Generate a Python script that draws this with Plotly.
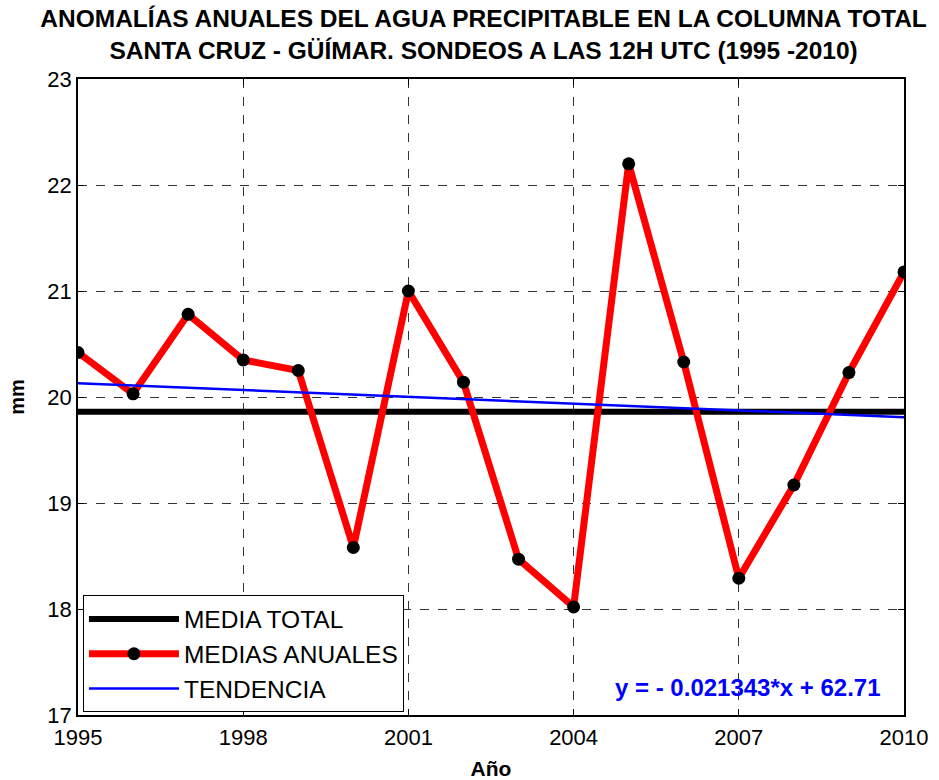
import plotly.graph_objects as go

years = [1995, 1996, 1997, 1998, 1999, 2000, 2001, 2002, 2003, 2004, 2005, 2006, 2007, 2008, 2009, 2010]
annual_means = [20.42, 20.03, 20.78, 20.35, 20.25, 18.58, 21.00, 20.14, 18.47, 18.02, 22.20, 20.33, 18.29, 19.17, 20.23, 21.18]
total_mean_years = [1995, 2010]
total_mean_values = [19.86, 19.86]
trend_years = [1995, 2010]
trend_values = [20.13, 19.81]
x_ticks = [1995, 1998, 2001, 2004, 2007, 2010]
y_ticks = [17, 18, 19, 20, 21, 22, 23]

FONT = "Liberation Sans, Arial, sans-serif"

fig = go.Figure()
fig.add_trace(go.Scatter(x=total_mean_years, y=total_mean_values, mode="lines",
                         line=dict(color="black", width=6), name="MEDIA TOTAL"))
fig.add_trace(go.Scatter(x=years, y=annual_means, mode="lines+markers",
                         line=dict(color="#ff0000", width=7),
                         marker=dict(color="black", size=13),
                         name="MEDIAS ANUALES"))
fig.add_trace(go.Scatter(x=trend_years, y=trend_values, mode="lines",
                         line=dict(color="#0000ff", width=2.5), name="TENDENCIA"))

axis_common = dict(showline=True, linecolor="black", linewidth=1.5, mirror="ticks",
                   ticks="inside", ticklen=6, tickcolor="black", automargin=False,
                   showgrid=True, gridcolor="#333333", gridwidth=1, griddash="dash",
                   zeroline=False, tickfont=dict(family=FONT, size=22, color="black"))

fig.update_xaxes(range=[1995, 2010], tickvals=x_ticks, ticklabelstandoff=2,
                 title=dict(text="<b>Año</b>", font=dict(family=FONT, size=21, color="black"), standoff=13),
                 **axis_common)
fig.update_yaxes(range=[17, 23], tickvals=y_ticks,
                 title=dict(text="<b>mm</b>", font=dict(family=FONT, size=20, color="black"), standoff=17),
                 **axis_common)

fig.add_annotation(x=0.974, y=0.0, xref="paper", yref="paper", xanchor="right", yanchor="bottom",
                   yshift=12,
                   text="<b>y = - 0.021343*x + 62.71</b>", showarrow=False,
                   font=dict(family=FONT, size=24, color="#0000ff"))

fig.update_layout(
    width=939, height=780,
    margin=dict(l=78, r=35, t=79, b=65),
    paper_bgcolor="white", plot_bgcolor="white",
    title=dict(text="<b>ANOMALÍAS ANUALES DEL AGUA PRECIPITABLE EN LA COLUMNA TOTAL<br>SANTA CRUZ - GÜÍMAR. SONDEOS A LAS 12H UTC (1995 -2010)</b>",
               x=0.515, xanchor="center", yref="container", y=1 - 27 / 780, yanchor="middle",
               automargin=False,
               font=dict(family=FONT, size=24.5, color="black")),
    showlegend=True,
    legend=dict(x=0.006, y=0.004, xanchor="left", yanchor="bottom",
                bgcolor="white", bordercolor="black", borderwidth=1,
                font=dict(family=FONT, size=24.5, color="black"),
                itemwidth=90, tracegroupgap=0),
)

fig.write_html("out.html", config={"displayModeBar": False},
               post_script="document.body.style.margin='0';document.body.style.overflow='hidden';")
